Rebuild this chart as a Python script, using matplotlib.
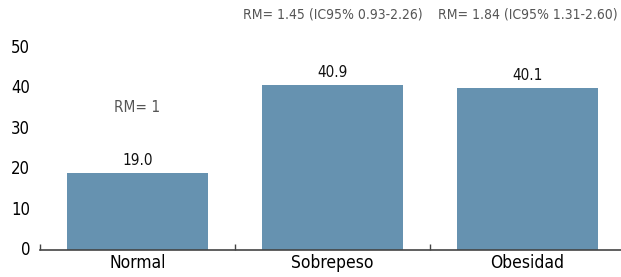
import matplotlib
matplotlib.use("Agg")
import matplotlib.pyplot as plt
import matplotlib.font_manager as fm
import matplotlib.transforms as mtransforms

# datos
categorias = ["Normal", "Sobrepeso", "Obesidad"]
valores = [19.0, 40.9, 40.1]
etiquetas_rm = ["RM= 1", "RM= 1.45 (IC95% 0.93-2.26)", "RM= 1.84 (IC95% 1.31-2.60)"]
yticks = [0, 10, 20, 30, 40, 50]

# buscar una fuente estrecha (condensed) si existe
fuente, estiramiento = None, "normal"
for f in fm.fontManager.ttflist:
    if f.style == "normal" and f.weight in (400, "normal") and (
            str(f.stretch) in ("condensed", "semi-condensed", "500", "75", "87")
            or "Narrow" in f.name or "Condensed" in f.name):
        fuente, estiramiento = f.name, f.stretch
        break
if fuente is None:
    fuente = "Roboto"
plt.rcParams["font.family"] = [fuente, "DejaVu Sans"]
plt.rcParams["font.stretch"] = estiramiento

fig = plt.figure(figsize=(6.21, 2.77), dpi=100)
ax = fig.add_axes([40 / 621, 27 / 277, 581 / 621, 202 / 277])

color_barra = "#6692B0"
x = list(range(len(categorias)))
ax.bar(x, valores, width=0.72, color=color_barra)

for xi, v in zip(x, valores):
    ax.text(xi, v + 1.2, f"{v:.1f}", ha="center", va="bottom", fontsize=11, color="#111111")

# anotaciones RM
ax.text(x[0], 35.2, etiquetas_rm[0], ha="center", va="center", fontsize=11, color="#555555")
for xi, txt in zip(x[1:], etiquetas_rm[1:]):
    ax.text(xi, 58.2, txt, ha="center", va="center", fontsize=10, color="#555555", clip_on=False)

ax.set_xlim(-0.5, 2.48)
ax.set_ylim(0, 50)
ax.set_yticks(yticks)
ax.set_xticks(x)
ax.set_xticklabels(categorias, fontsize=12.5)
ax.tick_params(axis="x", length=0, pad=3)
ax.tick_params(axis="y", length=0, pad=7, labelsize=12)

# subir un poco las etiquetas del eje y
desplazamiento = mtransforms.ScaledTranslation(0, 2 / 100, fig.dpi_scale_trans)
for lab in ax.get_yticklabels():
    lab.set_transform(lab.get_transform() + desplazamiento)

# separadores de categoria
ax.set_xticks([-0.5, 0.5, 1.5], minor=True)
ax.tick_params(axis="x", which="minor", direction="in", length=4, width=1, color="#444444")

for lado in ["top", "right", "left"]:
    ax.spines[lado].set_visible(False)
ax.spines["bottom"].set_color("#444444")
ax.spines["bottom"].set_linewidth(1.2)

fig.savefig("out.png", dpi=100)
